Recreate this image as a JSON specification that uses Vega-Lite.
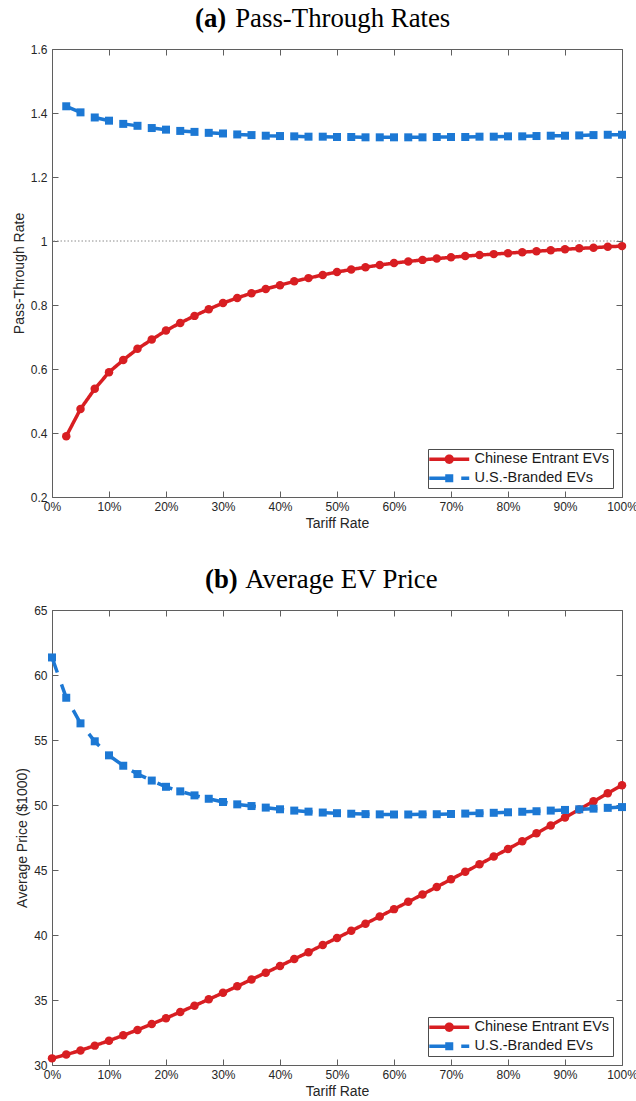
{
  "$schema": "https://vega.github.io/schema/vega-lite/v6.json",
  "background": "white",
  "padding": {"left": 12, "right": 2, "top": 6, "bottom": 2},
  "spacing": 37,
  "config": {
    "view": {"stroke": null},
    "font": "Liberation Sans",
    "axis": {
      "grid": false,
      "domainColor": "#5f5f5f",
      "domainWidth": 1,
      "tickColor": "#5f5f5f",
      "tickSize": -6,
      "tickWidth": 1,
      "labelFlush": false,
      "labelFont": "Liberation Sans",
      "labelFontSize": 12,
      "labelColor": "#262626",
      "titleFont": "Liberation Sans",
      "titleFontSize": 14,
      "titleFontWeight": "normal",
      "titleColor": "#262626"
    },
    "title": {
      "font": "Liberation Serif",
      "fontSize": 26.8,
      "fontWeight": "bold",
      "color": "black",
      "subtitleFont": "Liberation Serif",
      "subtitleFontSize": 26.8,
      "subtitleFontWeight": "normal",
      "subtitleColor": "black",
      "subtitlePadding": -26.8,
      "anchor": "start",
      "frame": "group",
      "offset": 10
    },
    "legend": {
      "title": null,
      "orient": "bottom-right",
      "offset": 9,
      "padding": 3,
      "strokeColor": "#4d4d4d",
      "fillColor": "white",
      "labelFont": "Liberation Sans",
      "labelFontSize": 14.5,
      "labelColor": "#1a1a1a",
      "symbolSize": 144,
      "symbolStrokeWidth": 0,
      "symbolStrokeColor": "transparent",
      "symbolOpacity": 1,
      "symbolOffset": 11,
      "labelOffset": 18,
      "rowPadding": 4
    }
  },
  "resolve": {
    "scale": {"fill": "independent", "shape": "independent"},
    "legend": {"fill": "independent", "shape": "independent"}
  },
  "vconcat": [
    {
      "width": 570,
      "height": 448,
      "title": {"text": "(a)", "subtitle": "\u200b\u00a0\u00a0\u00a0\u00a0\u00a0\u00a0Pass-Through Rates", "dx": 143},
      "data": {
        "values": [
          {"t": 2.5, "cn": 0.390, "us": 1.421},
          {"t": 5, "cn": 0.475, "us": 1.402},
          {"t": 7.5, "cn": 0.538, "us": 1.386},
          {"t": 10, "cn": 0.590, "us": 1.376},
          {"t": 12.5, "cn": 0.628, "us": 1.366},
          {"t": 15, "cn": 0.663, "us": 1.360},
          {"t": 17.5, "cn": 0.692, "us": 1.353},
          {"t": 20, "cn": 0.720, "us": 1.348},
          {"t": 22.5, "cn": 0.744, "us": 1.344},
          {"t": 25, "cn": 0.766, "us": 1.341},
          {"t": 27.5, "cn": 0.787, "us": 1.338},
          {"t": 30, "cn": 0.806, "us": 1.336},
          {"t": 32.5, "cn": 0.822, "us": 1.333},
          {"t": 35, "cn": 0.837, "us": 1.331},
          {"t": 37.5, "cn": 0.850, "us": 1.329},
          {"t": 40, "cn": 0.862, "us": 1.328},
          {"t": 42.5, "cn": 0.874, "us": 1.327},
          {"t": 45, "cn": 0.884, "us": 1.326},
          {"t": 47.5, "cn": 0.894, "us": 1.326},
          {"t": 50, "cn": 0.903, "us": 1.325},
          {"t": 52.5, "cn": 0.911, "us": 1.325},
          {"t": 55, "cn": 0.918, "us": 1.324},
          {"t": 57.5, "cn": 0.925, "us": 1.324},
          {"t": 60, "cn": 0.931, "us": 1.324},
          {"t": 62.5, "cn": 0.936, "us": 1.324},
          {"t": 65, "cn": 0.941, "us": 1.324},
          {"t": 67.5, "cn": 0.945, "us": 1.325},
          {"t": 70, "cn": 0.949, "us": 1.325},
          {"t": 72.5, "cn": 0.953, "us": 1.325},
          {"t": 75, "cn": 0.956, "us": 1.326},
          {"t": 77.5, "cn": 0.959, "us": 1.326},
          {"t": 80, "cn": 0.962, "us": 1.327},
          {"t": 82.5, "cn": 0.965, "us": 1.327},
          {"t": 85, "cn": 0.968, "us": 1.328},
          {"t": 87.5, "cn": 0.971, "us": 1.329},
          {"t": 90, "cn": 0.974, "us": 1.329},
          {"t": 92.5, "cn": 0.977, "us": 1.330},
          {"t": 95, "cn": 0.979, "us": 1.331},
          {"t": 97.5, "cn": 0.982, "us": 1.332},
          {"t": 100, "cn": 0.984, "us": 1.332}
        ]
      },
      "transform": [{"fold": ["cn", "us"], "as": ["series", "value"]}],
      "resolve": {"axis": {"x": "independent", "y": "independent"}},
      "layer": [
        {
          "data": {"values": [{"ref": 1}]},
          "mark": {"type": "rule", "color": "#8c8c8c", "strokeWidth": 1, "strokeDash": [1.5, 2]},
          "encoding": {"y": {"field": "ref", "type": "quantitative", "axis": null}}
        },
        {
          "mark": {"type": "line", "strokeWidth": 3.5},
          "encoding": {
            "x": {"field": "t", "type": "quantitative", "scale": {"domain": [0, 100], "nice": false},
                  "axis": {"orient": "bottom", "title": "Tariff Rate", "values": [0, 10, 20, 30, 40, 50, 60, 70, 80, 90, 100], "labelExpr": "datum.label + '%'", "labelPadding": 10, "titlePadding": 4}},
            "y": {"field": "value", "type": "quantitative", "scale": {"domain": [0.2, 1.6], "nice": false, "zero": false},
                  "axis": {"orient": "left", "title": "Pass-Through Rate", "values": [0.2, 0.4, 0.6, 0.8, 1, 1.2, 1.4, 1.6], "format": "~g", "labelPadding": 11, "titlePadding": 4}},
            "color": {"field": "series", "type": "nominal", "scale": {"domain": ["cn", "us"], "range": ["#d81e22", "#1c78d4"]}, "legend": null},
            "strokeDash": {"field": "series", "type": "nominal", "scale": {"domain": ["cn", "us"], "range": [[1, 0], [16, 12.5]]}, "legend": null}
          }
        },
        {
          "transform": [{"filter": "datum.series == 'cn'"}],
          "mark": {"type": "point", "shape": "circle", "filled": true, "size": 72, "opacity": 1, "color": "#d81e22"},
          "encoding": {
            "x": {"field": "t", "type": "quantitative", "axis": {"orient": "top", "labels": false, "title": null, "values": [0, 10, 20, 30, 40, 50, 60, 70, 80, 90, 100]}},
            "y": {"field": "value", "type": "quantitative", "axis": {"orient": "right", "labels": false, "title": null, "values": [0.2, 0.4, 0.6, 0.8, 1, 1.2, 1.4, 1.6]}}
          }
        },
        {
          "transform": [{"filter": "datum.series == 'us'"}],
          "mark": {"type": "point", "shape": "square", "filled": true, "size": 64, "opacity": 1, "color": "#1c78d4"},
          "encoding": {
            "x": {"field": "t", "type": "quantitative", "axis": null},
            "y": {"field": "value", "type": "quantitative", "axis": null}
          }
        },
        {
          "mark": {"type": "point", "filled": true, "size": 144, "opacity": 0, "clip": true},
          "encoding": {
            "x": {"field": "t", "type": "quantitative", "axis": null},
            "y": {"field": "value", "type": "quantitative", "axis": null},
            "fill": {"field": "series", "type": "nominal", "scale": {"domain": ["cn", "us"], "range": ["#d81e22", "#1c78d4"]},
                     "legend": {"labelExpr": "datum.value == 'cn' ? 'Chinese Entrant EVs' : 'U.S.-Branded EVs'"}},
            "shape": {"field": "series", "type": "nominal",
                      "scale": {"domain": ["cn", "us"], "range": [
                        "M-3.33,-0.29H3.33V0.29H-3.33Z M-0.78,0A0.78,0.78,0,1,1,0.78,0A0.78,0.78,0,1,1,-0.78,0Z",
                        "M-3.33,-0.29H0V0.29H-3.33Z M-0.67,-0.67H0.67V0.67H-0.67Z M2,-0.29H3.33V0.29H2Z"]},
                      "legend": {"labelExpr": "datum.value == 'cn' ? 'Chinese Entrant EVs' : 'U.S.-Branded EVs'"}}
          }
        }
      ]
    },
    {
      "width": 570,
      "height": 455,
      "title": {"text": "(b)", "subtitle": "\u200b\u00a0\u00a0\u00a0\u00a0\u00a0\u00a0Average EV Price", "dx": 153},
      "data": {
        "values": [
          {"t": 0, "cn": 30.51, "us": 61.35},
          {"t": 2.5, "cn": 30.80, "us": 58.25},
          {"t": 5, "cn": 31.12, "us": 56.28},
          {"t": 7.5, "cn": 31.49, "us": 54.90},
          {"t": 10, "cn": 31.87, "us": 53.82},
          {"t": 12.5, "cn": 32.28, "us": 53.02},
          {"t": 15, "cn": 32.70, "us": 52.38},
          {"t": 17.5, "cn": 33.15, "us": 51.88},
          {"t": 20, "cn": 33.60, "us": 51.40},
          {"t": 22.5, "cn": 34.08, "us": 51.05},
          {"t": 25, "cn": 34.56, "us": 50.74},
          {"t": 27.5, "cn": 35.05, "us": 50.48},
          {"t": 30, "cn": 35.55, "us": 50.23},
          {"t": 32.5, "cn": 36.05, "us": 50.05},
          {"t": 35, "cn": 36.58, "us": 49.92},
          {"t": 37.5, "cn": 37.10, "us": 49.80},
          {"t": 40, "cn": 37.62, "us": 49.67},
          {"t": 42.5, "cn": 38.15, "us": 49.57},
          {"t": 45, "cn": 38.68, "us": 49.49},
          {"t": 47.5, "cn": 39.23, "us": 49.42},
          {"t": 50, "cn": 39.77, "us": 49.37},
          {"t": 52.5, "cn": 40.32, "us": 49.33},
          {"t": 55, "cn": 40.87, "us": 49.30},
          {"t": 57.5, "cn": 41.43, "us": 49.28},
          {"t": 60, "cn": 41.99, "us": 49.27},
          {"t": 62.5, "cn": 42.55, "us": 49.27},
          {"t": 65, "cn": 43.12, "us": 49.28},
          {"t": 67.5, "cn": 43.70, "us": 49.29},
          {"t": 70, "cn": 44.28, "us": 49.31},
          {"t": 72.5, "cn": 44.86, "us": 49.34},
          {"t": 75, "cn": 45.44, "us": 49.37},
          {"t": 77.5, "cn": 46.03, "us": 49.40},
          {"t": 80, "cn": 46.62, "us": 49.44},
          {"t": 82.5, "cn": 47.22, "us": 49.48},
          {"t": 85, "cn": 47.82, "us": 49.52},
          {"t": 87.5, "cn": 48.43, "us": 49.57},
          {"t": 90, "cn": 49.04, "us": 49.62},
          {"t": 92.5, "cn": 49.66, "us": 49.67},
          {"t": 95, "cn": 50.28, "us": 49.72},
          {"t": 97.5, "cn": 50.90, "us": 49.78},
          {"t": 100, "cn": 51.52, "us": 49.84}
        ]
      },
      "transform": [{"fold": ["cn", "us"], "as": ["series", "value"]}],
      "resolve": {"axis": {"x": "independent", "y": "independent"}},
      "layer": [
        {
          "mark": {"type": "line", "strokeWidth": 3.5},
          "encoding": {
            "x": {"field": "t", "type": "quantitative", "scale": {"domain": [0, 100], "nice": false},
                  "axis": {"orient": "bottom", "title": "Tariff Rate", "values": [0, 10, 20, 30, 40, 50, 60, 70, 80, 90, 100], "labelExpr": "datum.label + '%'", "labelPadding": 10, "titlePadding": 4}},
            "y": {"field": "value", "type": "quantitative", "scale": {"domain": [30, 65], "nice": false, "zero": false},
                  "axis": {"orient": "left", "title": "Average Price ($1000)", "values": [30, 35, 40, 45, 50, 55, 60, 65], "labelPadding": 11, "titlePadding": 4}},
            "color": {"field": "series", "type": "nominal", "scale": {"domain": ["cn", "us"], "range": ["#d81e22", "#1c78d4"]}, "legend": null},
            "strokeDash": {"field": "series", "type": "nominal", "scale": {"domain": ["cn", "us"], "range": [[1, 0], [16, 12.5]]}, "legend": null}
          }
        },
        {
          "transform": [{"filter": "datum.series == 'cn'"}],
          "mark": {"type": "point", "shape": "circle", "filled": true, "size": 72, "opacity": 1, "color": "#d81e22"},
          "encoding": {
            "x": {"field": "t", "type": "quantitative", "axis": {"orient": "top", "labels": false, "title": null, "values": [0, 10, 20, 30, 40, 50, 60, 70, 80, 90, 100]}},
            "y": {"field": "value", "type": "quantitative", "axis": {"orient": "right", "labels": false, "title": null, "values": [30, 35, 40, 45, 50, 55, 60, 65]}}
          }
        },
        {
          "transform": [{"filter": "datum.series == 'us'"}],
          "mark": {"type": "point", "shape": "square", "filled": true, "size": 64, "opacity": 1, "color": "#1c78d4"},
          "encoding": {
            "x": {"field": "t", "type": "quantitative", "axis": null},
            "y": {"field": "value", "type": "quantitative", "axis": null}
          }
        },
        {
          "mark": {"type": "point", "filled": true, "size": 144, "opacity": 0, "clip": true},
          "encoding": {
            "x": {"field": "t", "type": "quantitative", "axis": null},
            "y": {"field": "value", "type": "quantitative", "axis": null},
            "fill": {"field": "series", "type": "nominal", "scale": {"domain": ["cn", "us"], "range": ["#d81e22", "#1c78d4"]},
                     "legend": {"labelExpr": "datum.value == 'cn' ? 'Chinese Entrant EVs' : 'U.S.-Branded EVs'"}},
            "shape": {"field": "series", "type": "nominal",
                      "scale": {"domain": ["cn", "us"], "range": [
                        "M-3.33,-0.29H3.33V0.29H-3.33Z M-0.78,0A0.78,0.78,0,1,1,0.78,0A0.78,0.78,0,1,1,-0.78,0Z",
                        "M-3.33,-0.29H0V0.29H-3.33Z M-0.67,-0.67H0.67V0.67H-0.67Z M2,-0.29H3.33V0.29H2Z"]},
                      "legend": {"labelExpr": "datum.value == 'cn' ? 'Chinese Entrant EVs' : 'U.S.-Branded EVs'"}}
          }
        }
      ]
    }
  ]
}
